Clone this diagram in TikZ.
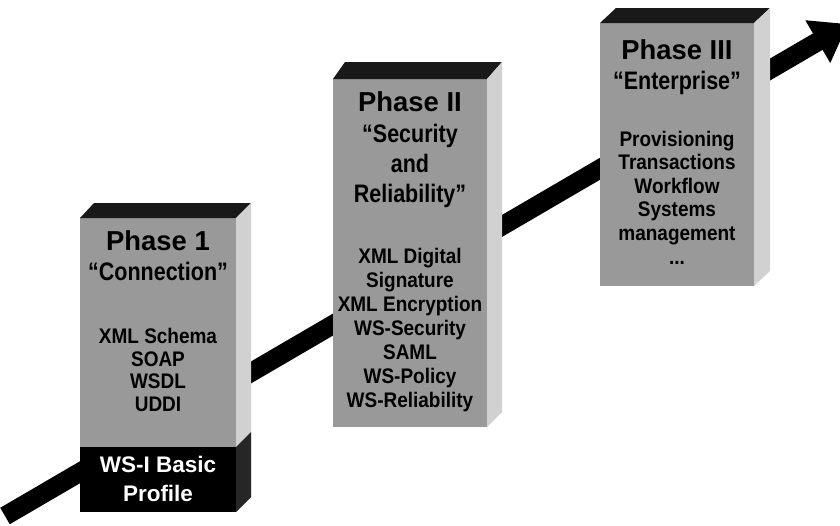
\documentclass[tikz,border=0pt]{standalone}
\usepackage{fontspec}
\setmainfont{Liberation Sans}
\newfontfamily\narrowfont[FakeStretch=0.85]{Liberation Sans}
\newfontfamily\bodyfont[FakeStretch=0.9]{Liberation Sans}
\usetikzlibrary{arrows.meta}
\definecolor{front}{gray}{0.6}
\definecolor{side}{gray}{0.82}
\definecolor{lid}{gray}{0.1}
\newcommand\phasename[1]{{\rmfamily\bfseries\fontsize{19.5}{21.5}\selectfont #1}}
\tikzset{
  head/.style={font=\narrowfont\bfseries\fontsize{18}{21.5}\selectfont, align=center, inner sep=0pt},
  body/.style={font=\bodyfont\bfseries\fontsize{15}{16}\selectfont, align=center, inner sep=0pt},
  label/.style={font=\bfseries\fontsize{16}{20.5}\selectfont, text=white, align=center, inner sep=0pt},
}

\begin{document}
\begin{tikzpicture}[x=0.25mm,y=-0.25mm]
\useasboundingbox (0,0) rectangle (840,525);

\coordinate (start) at (5,516);
\coordinate (tip) at (848,24);
\draw[line width=4.75mm, -{Triangle[length=8.75mm,width=11.75mm]}] (start) -- (tip);

% phase 1
\fill[front] (80,218) rectangle (236,512);
\fill[lid] (80,218) -- (94,203) -- (251,203) -- (236,218) -- cycle;
\fill[side] (236,218) -- (251,203) -- (251,497) -- (236,512) -- cycle;
\fill[black] (80,447) rectangle (236,512);
\fill[black!85] (236,447) -- (251,432) -- (251,497) -- (236,512) -- cycle;
\node[head] (p1head) at (158,256) {\phasename{Phase 1}\\“Connection”};
\node[body] (p1body) at (158,370) {XML Schema\\SOAP\\WSDL\\UDDI};
\node[label] (basic) at (158,479) {WS-I Basic\\Profile};

% phase 2
\fill[front] (333,79) rectangle (487,427);
\fill[lid] (333,79) -- (345,62) -- (502,62) -- (487,79) -- cycle;
\fill[side] (487,79) -- (502,62) -- (502,412) -- (487,427) -- cycle;
\node[head] (p2head) at (410,150) {\phasename{Phase II}\\“Security\\and\\Reliability”};
\node[body, font=\bodyfont\bfseries\fontsize{15}{17}\selectfont] (p2body) at (410,330)
  {XML Digital\\Signature\\XML Encryption\\WS-Security\\SAML\\WS-Policy\\WS-Reliability};

% phase 3
\fill[front] (600,23) rectangle (754,286);
\fill[lid] (600,23) -- (616,8) -- (770,8) -- (754,23) -- cycle;
\fill[side] (754,23) -- (770,8) -- (770,271) -- (754,286) -- cycle;
\node[head] (p3head) at (677,67) {\phasename{Phase III}\\“Enterprise”};
\node[body, font=\bodyfont\bfseries\fontsize{15}{16.7}\selectfont] (p3body) at (677,188)
  {Provisioning\\Transactions\\Workflow\\Systems\\management};
\node[body] (dots) at (677,263) {...};
\end{tikzpicture}
\end{document}
